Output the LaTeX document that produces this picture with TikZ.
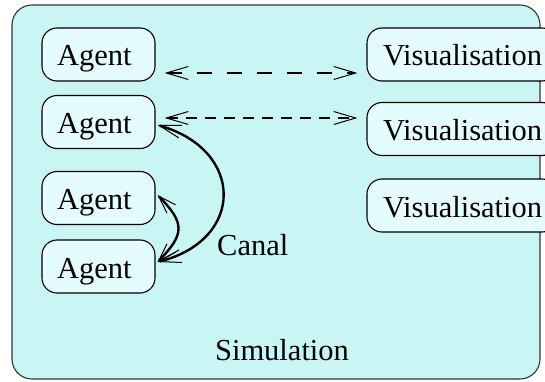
\documentclass[tikz,border=0pt]{standalone}
\usepackage{fontspec}
\setmainfont{Liberation Serif}
\usetikzlibrary{arrows.meta,calc}
\definecolor{simfill}{RGB}{202,245,245}
\definecolor{boxfill}{RGB}{228,252,252}
\tikzset{
  unit/.style={draw=black, line width=1.1pt, fill=boxfill, rounded corners=15pt,
    minimum height=53pt, inner sep=0pt, text height=23pt, text depth=0pt,
    font=\fontsize{30.5}{32}\selectfont},
  agentbox/.style={unit, minimum width=113pt, text width=113pt, align=left},
  visbox/.style={unit, minimum width=190pt, text width=190pt, align=left},
  lbl/.style={font=\fontsize{30.5}{32}\selectfont, inner sep=0pt},
  barb/.tip={Straight Barb[length=22pt, width=13pt, line width=1pt]},
  sbarb/.tip={Straight Barb[length=18pt, width=12pt, line width=1pt]},
  msg/.style={line width=2.4pt, {barb}-{barb}},
  chan/.style={line width=2.4pt, {barb}-{barb}},
  schan/.style={line width=2.4pt, {sbarb}-{sbarb}}
}
\begin{document}
\begin{tikzpicture}[x=1pt,y=-1pt]
\useasboundingbox (0,0) rectangle (545,382);
\begin{scope}
\clip (0,0) rectangle (545,382);
\node[draw=black!80, line width=1.1pt, fill=simfill, rounded corners=20pt,
  minimum width=528pt, minimum height=374pt, inner sep=0pt] (sim) at (276,192) {};
\node[agentbox] (a1) at (98.5,54.5) {\hspace*{15pt}Agent};
\node[agentbox] (a2) at (98.5,122) {\hspace*{15pt}Agent};
\node[agentbox] (a3) at (98.5,198) {\hspace*{15pt}Agent};
\node[agentbox] (a4) at (98.5,266.5) {\hspace*{15pt}Agent};
\node[visbox] (v1) at (462,54.5) {\hspace*{16pt}Visualisation};
\node[visbox] (v2) at (462,129) {\hspace*{16pt}Visualisation};
\node[visbox] (v3) at (462,205.5) {\hspace*{16pt}Visualisation};
\end{scope}
\node[lbl, anchor=base west] (canal) at (217,255) {Canal};
\node[lbl, anchor=base] (simlbl) at (282,360) {Simulation};
\draw[msg, dash pattern=on 15pt off 15pt] ($(a1.east)+(9,18.5)$) -- ($(v1.west)+(-9,18.5)$);
\draw[msg, dash pattern=on 11pt off 8pt] ($(a2.east)+(9,-4)$) -- ($(v2.west)+(-9,-11)$);
\draw[chan] ($(a2.east)+(2,3)$) .. controls (245,150) and (245,240) .. ($(a4.east)+(2,-4.5)$);
\draw[schan] ($(a3.east)+(2,-3)$) .. controls (185,223) and (185,234) .. ($(a4.east)+(2,-4.5)$);
\end{tikzpicture}
\end{document}
